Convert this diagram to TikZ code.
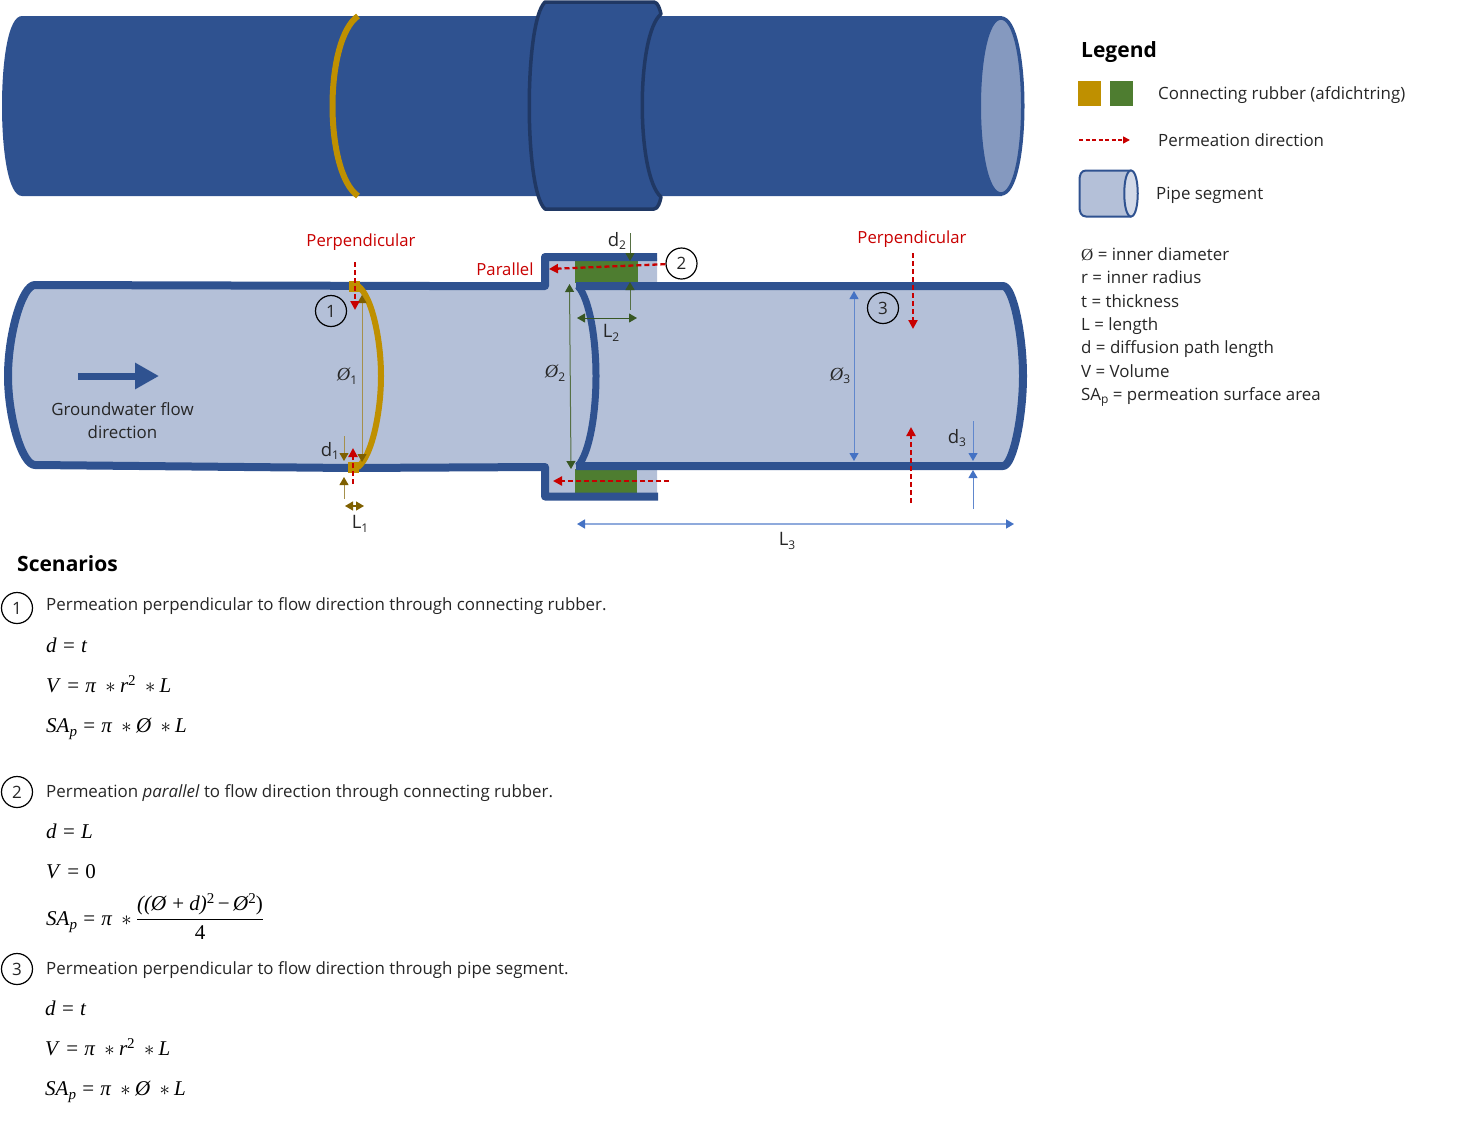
\documentclass[tikz,border=0pt]{standalone}
\usepackage{amsmath}
\usepackage{fontspec}
\setmainfont{Open Sans}
\newfontfamily\symfont{Liberation Serif}
\usetikzlibrary{arrows.meta}
\definecolor{pipeblue}{HTML}{2F5290}
\definecolor{pipedark}{HTML}{203864}
\definecolor{pipelight}{HTML}{B4C0D8}
\definecolor{pipeface}{HTML}{8599BF}
\definecolor{rubgold}{HTML}{BF9000}
\definecolor{rubgreen}{HTML}{4E7D30}
\definecolor{darkgold}{HTML}{7F6000}
\definecolor{dimgreen}{HTML}{385723}
\definecolor{dimblue}{HTML}{4472C4}
\definecolor{permred}{HTML}{C80000}
\definecolor{txt}{HTML}{262626}
\tikzset{
  x=1pt,y=-1pt,
  wall/.style={draw=pipeblue,line width=8pt,line join=round},
  perm/.style={draw=permred,line width=2.3pt,dash pattern=on 5pt off 3pt,-{Triangle[length=9pt,width=9pt]}},
  dimg/.style={draw=darkgold!70!white,line width=1pt,-{Triangle[length=8pt,width=9pt,color=darkgold]}},
  dimgg/.style={draw=darkgold,line width=1.2pt,{Triangle[length=8pt,width=9pt]}-{Triangle[length=8pt,width=9pt]}},
  dimv/.style={draw=dimgreen!85!white,line width=1pt,-{Triangle[length=8pt,width=9pt,color=dimgreen]}},
  dimvv/.style={draw=dimgreen,line width=1pt,{Triangle[length=8pt,width=9pt]}-{Triangle[length=8pt,width=9pt]}},
  dimb/.style={draw=dimblue!85!white,line width=1pt,-{Triangle[length=8pt,width=9pt,color=dimblue]}},
  dimbb/.style={draw=dimblue!60!white,line width=1.5pt,{Triangle[length=8pt,width=9pt,color=dimblue]}-{Triangle[length=8pt,width=9pt,color=dimblue]}},
  lab/.style={font=\fontsize{16.9}{20}\selectfont,text=txt,inner sep=0pt},
  dlab/.style={font=\fontsize{18.5}{20}\selectfont,text=txt,inner sep=0pt},
  ltxt/.style={lab,anchor=base west},
  redlab/.style={font=\fontsize{16.7}{20}\selectfont,text=permred,inner sep=0pt},
  head/.style={font=\fontsize{21}{26}\selectfont\bfseries,text=black,inner sep=0pt,anchor=base west},
  num/.style={circle,draw=black,line width=1.2pt,minimum size=31pt,inner sep=0pt,font=\fontsize{17}{19}\selectfont,text=txt},
  eqn/.style={font=\fontsize{21}{24}\selectfont\symfont\itshape,text=black,inner sep=0pt,anchor=base west},
}
\newcommand{\Dia}{\mbox{\symfont\itshape Ø}}
\newcommand{\DiaU}{\mbox{\symfont Ø}}
\newcommand{\Sb}[1]{\raisebox{-3.5pt}{\fontsize{12}{13}\selectfont #1}}
\newcommand{\Ss}[1]{\raisebox{-4.5pt}{\fontsize{15}{15}\selectfont #1}}
\newcommand{\Sp}[1]{\raisebox{7pt}{\fontsize{15}{15}\selectfont\upshape #1}}
\newcommand{\Eq}{\hspace{0.3em}\textup{=}\hspace{0.3em}}
\newcommand{\Tm}{\hspace{0.45em}$*$\hspace{0.2em}}
\newcommand{\Pl}{\hspace{0.25em}\textup{+}\hspace{0.25em}}
\begin{document}
\begin{tikzpicture}
\useasboundingbox (0,0) rectangle (1470,1125);
% ---- top outside view
\fill[pipeblue] (22,16) -- (1002,16) -- (1002,196) -- (22,196)
  .. controls (8,196) and (2,150) .. (2,106) .. controls (2,62) and (8,16) .. (22,16) -- cycle;
\draw[draw=pipeblue,line width=3.5pt,fill=pipeface]
  (1001,18) .. controls (1030,18) and (1030,194) .. (1001,194)
  .. controls (972,194) and (972,18) .. (1001,18) -- cycle;
\draw[rubgold,line width=6pt] (358,16) .. controls (324,40) and (324,172) .. (358,196);
\draw[draw=pipedark,fill=pipeblue,line width=3.5pt,line join=round]
  (545,2) -- (654,2) .. controls (658,2) and (660,10) .. (661,14)
  .. controls (636,35) and (636,175) .. (661,197)
  .. controls (660,202) and (658,209) .. (654,209) -- (545,209)
  .. controls (524,190) and (524,22) .. (545,2) -- cycle;
% ---- section: interior fill
\fill[pipelight] (35,286) -- (549,286) -- (549,258) -- (657,258) -- (657,286) -- (1003,286)
  .. controls (1013,286) and (1023,335) .. (1023,376) .. controls (1023,417) and (1013,466) .. (1003,466)
  -- (657,466) -- (657,496) -- (549,496)
  -- (549,466) -- (35,466) .. controls (22,466) and (8,417) .. (8,376) .. controls (8,335) and (22,286) .. (35,286) -- cycle;
% green rubber
\node[draw=none,fill=rubgreen,inner sep=0pt,minimum width=63pt,minimum height=22pt] (rubA) at (606.5,272) {};
\node[draw=none,fill=rubgreen,inner sep=0pt,minimum width=62pt,minimum height=24pt] (rubB) at (606,481) {};
% walls
\draw[wall] (657,257) -- (545,257) -- (545,286) -- (432,286) -- (35,285)
  .. controls (22,285) and (8,335) .. (8,376) .. controls (8,417) and (22,465) .. (35,465)
  -- (350,468) -- (545,467) -- (545,496.5) -- (658,496.5);
\draw[wall] (576,286) -- (1003,286) .. controls (1013,286) and (1023,335) .. (1023,376) .. controls (1023,417) and (1013,466) .. (1003,466) -- (576,466);
\draw[draw=pipeblue,line width=7pt] (578,286) .. controls (590,300) and (596,340) .. (596,376) .. controls (596,412) and (590,452) .. (578,466);
% gold rubber
\draw[rubgold,line width=6pt,line cap=round] (358,286) .. controls (372,296) and (381,340) .. (381,376) .. controls (381,412) and (372,456) .. (358,467);
\node[fill=rubgold,inner sep=0pt,minimum width=11pt,minimum height=11pt] (rubC) at (354,286) {};
\node[fill=rubgold,inner sep=0pt,minimum width=11pt,minimum height=11pt] (rubD) at (353,467) {};
% flow arrow
\coordinate (fa) at (78,376); \coordinate (fb) at (159,376);
\draw[pipeblue,line width=7pt,-{Triangle[length=24pt,width=25pt]}] (fa) -- (fb);
\node[lab,align=center] (flow) at (122.5,421) {Groundwater flow\\[3pt]direction};
% permeation arrows
\coordinate (r1a) at (355,262); \coordinate (r1b) at (355,310);
\coordinate (r2a) at (353,484); \coordinate (r2b) at (353,448);
\coordinate (r3a) at (549,269);
\coordinate (r4a) at (669,481); \coordinate (r4b) at (553,481);
\coordinate (r5a) at (913,253); \coordinate (r5b) at (913,329);
\coordinate (r6a) at (911,503); \coordinate (r6b) at (911,427);
% dims gold
\coordinate (o1a) at (362,295); \coordinate (o1m) at (362,462);
\draw[darkgold!70!white,line width=1pt,{Triangle[length=8pt,width=9pt,color=darkgold]}-{Triangle[length=8pt,width=9pt,color=darkgold]}] (o1a) -- (o1m);
\coordinate (d1a) at (344,436); \coordinate (d1b) at (344,461);
\coordinate (d1c) at (344,499); \coordinate (d1d) at (344,477);
\draw[dimg] (d1a) -- (d1b);
\draw[dimg] (d1c) -- (d1d);
\coordinate (l1a) at (345,506); \coordinate (l1b) at (364,506);
\draw[dimgg] (l1a) -- (l1b);
% dims green
\coordinate (d2a) at (630,233); \coordinate (d2b) at (630,261);
\coordinate (d2c) at (630,310); \coordinate (d2d) at (630,282);
\draw[dimv] (d2a) -- (d2b);
\draw[dimv] (d2c) -- (d2d);
\coordinate (l2a) at (577,318); \coordinate (l2b) at (637,318);
\draw[dimvv] (l2a) -- (l2b);
\coordinate (o2a) at (569.5,284); \coordinate (o2b) at (571,469);
\draw[dimgreen!85!white,line width=1pt,{Triangle[length=8pt,width=9pt,color=dimgreen]}-{Triangle[length=8pt,width=9pt,color=dimgreen]}] (o2a) -- (o2b);
% dims blue
\coordinate (o3a) at (854,291); \coordinate (o3b) at (854,461);
\draw[dimblue!85!white,line width=1pt,{Triangle[length=8pt,width=9pt,color=dimblue]}-{Triangle[length=8pt,width=9pt,color=dimblue]}] (o3a) -- (o3b);
\coordinate (d3a) at (973,421); \coordinate (d3b) at (973,461);
\coordinate (d3c) at (973,509); \coordinate (d3d) at (973,470);
\draw[dimb] (d3a) -- (d3b);
\draw[dimb] (d3c) -- (d3d);
\coordinate (l3a) at (577,524); \coordinate (l3b) at (1014,524);
\draw[dimbb] (l3a) -- (l3b);
% red on top
\draw[perm] (r1a) -- (r1b);
\draw[perm] (r2a) -- (r2b);
\draw[perm] (r4a) -- (r4b);
\draw[perm] (r5a) -- (r5b);
\draw[perm] (r6a) -- (r6b);
% labels
\node[redlab] (perp1) at (361,242) {Perpendicular};
\node[redlab] (par) at (505,269) {Parallel};
\node[redlab] (perp3) at (912,239) {Perpendicular};
\node[num] (n1) at (331,311) {1};
\node[num] (n2) at (681.5,263.5) {2};
\node[num] (n3) at (883,308) {3};
\draw[perm] (n2) -- (r3a);
\node[dlab] (lo1) at (347,376) {\Dia\Sb{1}};
\node[dlab] (lo2) at (555,373) {\Dia\Sb{2}};
\node[dlab] (lo3) at (840,376) {\Dia\Sb{3}};
\node[dlab] (ld1) at (330,451) {d\Sb{1}};
\node[dlab] (ld2) at (617,241) {d\Sb{2}};
\node[dlab] (ld3) at (957,438) {d\Sb{3}};
\node[dlab] (ll1) at (360,524) {L\Sb{1}};
\node[dlab] (ll2) at (611,333) {L\Sb{2}};
\node[dlab] (ll3) at (787,541) {L\Sb{3}};
% ---- legend
\node[head] (leg) at (1081,57) {Legend};
\node[fill=rubgold,inner sep=0pt,minimum width=23pt,minimum height=25pt] (sq1) at (1089.5,93) {};
\node[fill=rubgreen,inner sep=0pt,minimum width=23pt,minimum height=25pt] (sq2) at (1121.5,93) {};
\node[ltxt] (lt1) at (1158,99) {Connecting rubber (afdichtring)};
\coordinate (lga) at (1079,140); \coordinate (lgb) at (1130,140);
\draw[draw=permred,line width=1.6pt,dash pattern=on 4pt off 2.5pt,-{Triangle[length=7pt,width=7pt]}] (lga) -- (lgb);
\node[ltxt] (lt2) at (1158,146) {Permeation direction};
\draw[draw=pipeblue,line width=2pt,fill=pipelight,line join=round]
  (1086,170.5) -- (1131,170.5) -- (1131,216.5) -- (1086,216.5)
  .. controls (1081,216.5) and (1079.5,212) .. (1079.5,207) -- (1079.5,180)
  .. controls (1079.5,175) and (1081,170.5) .. (1086,170.5) -- cycle;
\draw[draw=pipeblue,line width=2pt,fill=pipelight!60!white]
  (1131,170.5) .. controls (1140,170.5) and (1140,216.5) .. (1131,216.5)
  .. controls (1122,216.5) and (1122,170.5) .. (1131,170.5) -- cycle;
\node[ltxt] (lt3) at (1156,199) {Pipe segment};
\node[ltxt] (k1) at (1081,260) {\DiaU{} = inner diameter};
\node[ltxt] (k2) at (1081,283) {r = inner radius};
\node[ltxt] (k3) at (1081,307) {t = thickness};
\node[ltxt] (k4) at (1081,330) {L = length};
\node[ltxt] (k5) at (1081,353) {d = diffusion path length};
\node[ltxt] (k6) at (1081,377) {V = Volume};
\node[ltxt] (k7) at (1081,400) {SA\Sb{p} = permeation surface area};
% ---- scenarios
\node[head] (sc) at (17,571) {Scenarios};
\node[num] (s1) at (17,608) {1};
\node[ltxt] (s1t) at (46,610) {Permeation perpendicular to flow direction through connecting rubber.};
\node[eqn] (e11) at (46,652) {d\Eq t};
\node[eqn] (e12) at (46,692) {V\Eq π\Tm r\Sp{2}\Tm L};
\node[eqn] (e13) at (46,732) {SA\Ss{p}\Eq π\Tm Ø\Tm L};
\node[num] (s2) at (17,792) {2};
\node[ltxt] (s2t) at (46,797) {Permeation \textit{parallel} to flow direction through connecting rubber.};
\node[eqn] (e21) at (46,838) {d\Eq L};
\node[eqn] (e22) at (46,878) {V\Eq\textup{0}};
\node[eqn] (e23) at (46,925) {SA\Ss{p}\Eq π\Tm$\dfrac{\mbox{((Ø\Pl d)\Sp{2}\,\textup{−}\,Ø\Sp{2}\textup{)}}}{\mbox{\textup{4}}}$};
\node[num] (s3) at (17,969) {3};
\node[ltxt] (s3t) at (46,974) {Permeation perpendicular to flow direction through pipe segment.};
\node[eqn] (e31) at (45,1015) {d\Eq t};
\node[eqn] (e32) at (45,1055) {V\Eq π\Tm r\Sp{2}\Tm L};
\node[eqn] (e33) at (45,1095) {SA\Ss{p}\Eq π\Tm Ø\Tm L};
\end{tikzpicture}
\end{document}
